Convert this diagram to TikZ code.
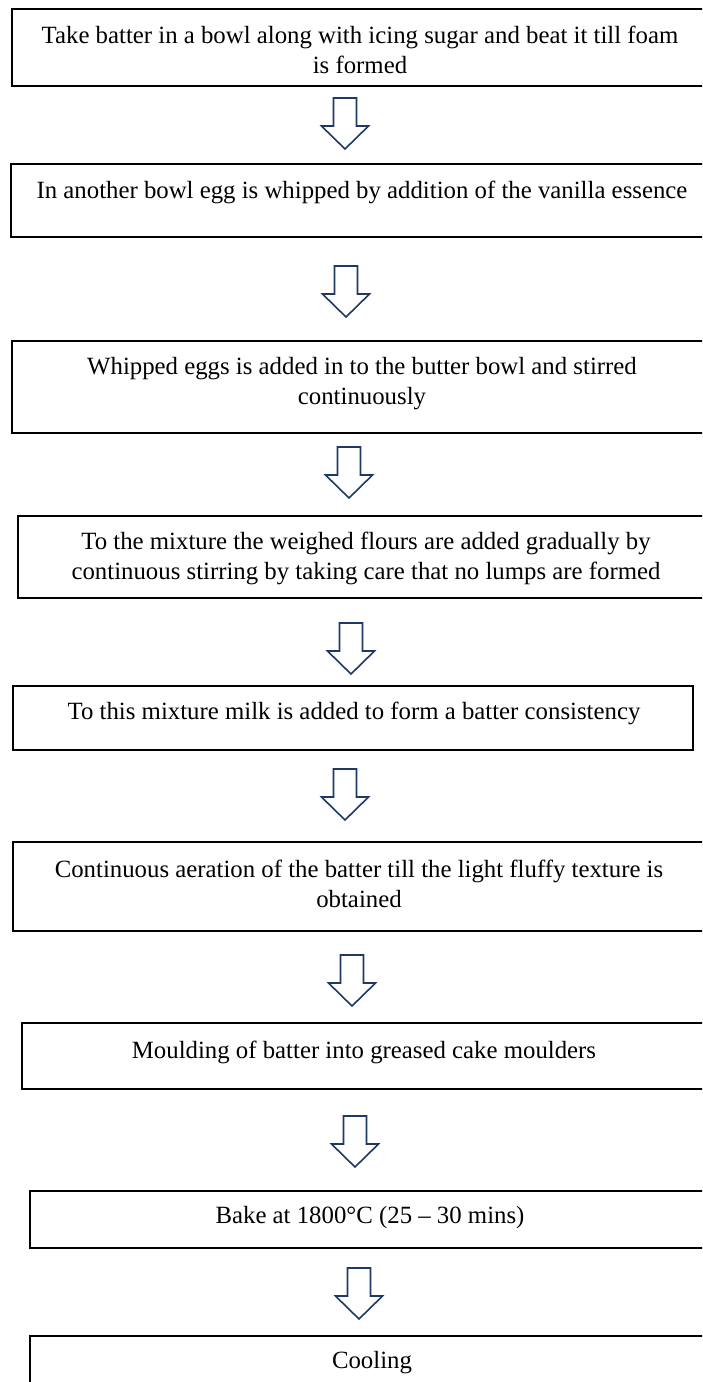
\documentclass[tikz,border=0pt]{standalone}
\usepackage{fontspec}
\setmainfont{Liberation Serif}
\definecolor{arrowblue}{HTML}{1F3864}
\tikzset{
  stepbox/.style={draw=black, line width=2pt, fill=none},
  steptext/.style={inner sep=0pt, align=center, font=\fontsize{24.8}{30}\selectfont},
  blockarrow/.style={draw=arrowblue, line width=1.6pt, fill=white, line join=miter}
}
\newcommand{\downarrowat}[1]{%
  \draw[blockarrow] (#1) ++(-11.5,0) -- ++(23,0) -- ++(0,-28) -- ++(12,0)
    -- ++(-23.5,-23) -- ++(-23.5,23) -- ++(12,0) -- cycle;}
\begin{document}
\begin{tikzpicture}[x=1pt,y=1pt]
\useasboundingbox (0,0) rectangle (702,-1382);
\clip (0,0) rectangle (702,-1382);
% boxes
\draw[stepbox] (12,-9) rectangle (712,-86) coordinate (b1);
\draw[stepbox] (11,-164) rectangle (712,-237) coordinate (b2);
\draw[stepbox] (12,-341) rectangle (712,-433) coordinate (b3);
\draw[stepbox] (18,-516) rectangle (712,-598) coordinate (b4);
\draw[stepbox] (13,-686) rectangle (693,-750) coordinate (b5);
\draw[stepbox] (13,-842) rectangle (712,-931) coordinate (b6);
\draw[stepbox] (22,-1023) rectangle (712,-1089) coordinate (b7);
\draw[stepbox] (30,-1191) rectangle (712,-1248) coordinate (b8);
\draw[stepbox] (30,-1336) rectangle (712,-1400) coordinate (b9);
% texts
\node[steptext] (t1) at (360,-50) {Take batter in a bowl along with icing sugar and beat it till foam\\is formed};
\node[steptext] (t2) at (362,-192) {In another bowl egg is whipped by addition of the vanilla essence};
\node[steptext] (t3) at (362,-383.5) {Whipped eggs is added in to the butter bowl and stirred\\continuously};
\node[steptext] (t4) at (366,-558) {To the mixture the weighed flours are added gradually by\\continuous stirring by taking care that no lumps are formed};
\node[steptext] (t5) at (354,-713) {To this mixture milk is added to form a batter consistency};
\node[steptext] (t6) at (359,-884) {Continuous aeration of the batter till the light fluffy texture is\\obtained};
\node[steptext] (t7) at (364,-1052) {Moulding of batter into greased cake moulders};
\node[steptext] (t8) at (370,-1218) {Bake at 1800°C (25 – 30 mins)};
\node[steptext] (t9) at (372,-1363) {Cooling};
% block arrows
\coordinate (a1) at (345,-98);
\coordinate (a2) at (346,-266);
\coordinate (a3) at (349,-447);
\coordinate (a4) at (351,-623);
\coordinate (a5) at (345,-769);
\coordinate (a6) at (352,-955);
\coordinate (a7) at (355,-1116);
\coordinate (a8) at (359,-1268);
\downarrowat{a1}
\downarrowat{a2}
\downarrowat{a3}
\downarrowat{a4}
\downarrowat{a5}
\downarrowat{a6}
\downarrowat{a7}
\downarrowat{a8}
\end{tikzpicture}
\end{document}
